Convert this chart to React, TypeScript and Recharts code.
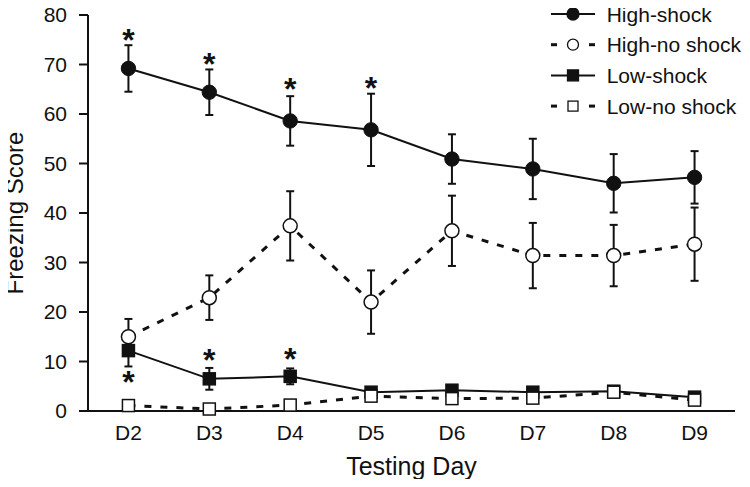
import React from "react"
import { ComposedChart, Line, ErrorBar, XAxis, YAxis, Legend } from "recharts"

const days = ["D2", "D3", "D4", "D5", "D6", "D7", "D8", "D9"]
const yTicks = [0, 10, 20, 30, 40, 50, 60, 70, 80]

const highShock = [69.2, 64.4, 58.6, 56.8, 50.9, 48.9, 46.0, 47.2]
const highShockErr = [4.7, 4.6, 5.0, 7.3, 5.0, 6.1, 5.9, 5.3]
const highNoShock = [15.0, 22.9, 37.4, 22.0, 36.4, 31.4, 31.4, 33.7]
const highNoShockErr = [3.6, 4.5, 7.0, 6.4, 7.1, 6.6, 6.2, 7.4]
const lowShock = [12.2, 6.5, 7.0, 3.8, 4.2, 3.8, 4.0, 2.8]
const lowShockErr = [3.2, 2.2, 1.6, 0.9, 0.8, 0.8, 1.0, 0.7]
const lowNoShock = [1.1, 0.4, 1.2, 3.0, 2.5, 2.6, 3.8, 2.2]
const lowNoShockErr = [0.3, 0.3, 0.9, 0.7, 0.5, 0.6, 1.0, 0.6]

// where the significance asterisks sit (y value), null = none
const starHigh = [76.3, 71.6, 66.5, 66.7, null, null, null, null]
const starLow = [7.3, 11.8, 12.0, null, null, null, null, null]

const legendNames = ["High-shock", "High-no shock", "Low-shock", "Low-no shock"]

const data = days.map((day, i) => ({
  day,
  hs: highShock[i],
  hsErr: highShockErr[i],
  hns: highNoShock[i],
  hnsErr: highNoShockErr[i],
  ls: lowShock[i],
  lsErr: lowShockErr[i],
  lns: lowNoShock[i],
  lnsErr: lowNoShockErr[i],
  starHigh: starHigh[i],
  starLow: starLow[i],
}))

const FONT = '"Liberation Sans", Arial, Helvetica, sans-serif'
const INK = "#111"

const squareDot = (fill: string) => (props: any) => {
  const { cx, cy, index } = props
  if (cx == null || cy == null) return <g key={`sq-${index}`} />
  return (
    <rect key={`sq-${index}`} x={cx - 6} y={cy - 6} width={12} height={12} fill={fill} stroke={INK} strokeWidth={1.5} />
  )
}

const StarDot = (props: any) => {
  const { cx, cy, value, index } = props
  if (value == null || cx == null || cy == null) return <g key={`st-${index}`} />
  return (
    <text key={`st-${index}`} x={cx} y={cy + 18} textAnchor="middle" fontSize={32} fontWeight="bold" fontFamily={FONT} fill={INK}>
      *
    </text>
  )
}

const YTitle = (props: any) => {
  const vb = props.viewBox || {}
  const cy = (vb.y ?? 15) + (vb.height ?? 396) / 2
  const cx = 23
  return (
    <text x={cx} y={cy} transform={`rotate(-90, ${cx}, ${cy})`} textAnchor="middle" fontSize={24} fontFamily={FONT} fill={INK}>
      Freezing Score
    </text>
  )
}

const XTitle = (props: any) => {
  const vb = props.viewBox || {}
  const cx = (vb.x ?? 88) + (vb.width ?? 647) / 2
  return (
    <text x={cx} y={475} textAnchor="middle" fontSize={25} fontFamily={FONT} fill={INK}>
      Testing Day
    </text>
  )
}

function LegendBox() {
  const rowY = (i: number) => 14 + i * 30.7
  return (
    <svg width={200} height={125} style={{ overflow: "visible" }}>
      {legendNames.map((name, i) => {
        const y = rowY(i)
        const dashed = i % 2 === 1
        const circle = i < 2
        return (
          <g key={name}>
            {dashed ? (
              <>
                <line x1={3} y1={y} x2={9} y2={y} stroke={INK} strokeWidth={3} />
                <line x1={41} y1={y} x2={47} y2={y} stroke={INK} strokeWidth={3} />
              </>
            ) : (
              <line x1={3} y1={y} x2={47} y2={y} stroke={INK} strokeWidth={2} />
            )}
            {circle ? (
              <circle cx={25} cy={y} r={dashed ? 5.5 : 6} fill={dashed ? "#fff" : INK} stroke={INK} strokeWidth={1.3} />
            ) : (
              <rect x={dashed ? 20 : 19.5} y={y - (dashed ? 5 : 5.5)} width={dashed ? 10 : 11} height={dashed ? 10 : 11} fill={dashed ? "#fff" : INK} stroke={INK} strokeWidth={1.3} />
            )}
            <text x={58.7} y={y + 7.5} fontSize={21} fontFamily={FONT} fill={INK}>
              {name}
            </text>
          </g>
        )
      })}
    </svg>
  )
}

export default function App() {
  return (
    <div style={{ margin: -8, width: 750, height: 487, background: "#fff" }}>
      <ComposedChart width={750} height={487} data={data} margin={{ top: 15, right: 15, left: 0, bottom: 0 }} style={{ fontFamily: FONT }}>
        <XAxis
          dataKey="day"
          scale="band"
          height={76}
          tickLine={false}
          tickMargin={8}
          axisLine={{ stroke: INK, strokeWidth: 2 }}
          tick={{ fontSize: 21, fill: INK, fontFamily: FONT }}
          label={<XTitle />}
        />
        <YAxis
          domain={[0, 80]}
          ticks={yTicks}
          width={88}
          tickSize={9}
          tickMargin={12}
          axisLine={{ stroke: INK, strokeWidth: 2 }}
          tickLine={{ stroke: INK, strokeWidth: 2 }}
          tick={{ fontSize: 21, fill: INK, fontFamily: FONT }}
          label={<YTitle />}
        />
        <Legend
          layout="vertical"
          align="center"
          verticalAlign="middle"
          wrapperStyle={{ left: 548, top: 0, width: 200, height: 125 }}
          content={() => <LegendBox />}
        />
        <Line
          dataKey="hns"
          stroke={INK}
          strokeWidth={3}
          strokeDasharray="7 9"
          dot={{ r: 7, fill: "#fff", stroke: INK, strokeWidth: 1.5, strokeDasharray: "0" }}
          activeDot={false}
          isAnimationActive={false}
        >
          <ErrorBar dataKey="hnsErr" width={4} stroke={INK} strokeWidth={2} direction="y" />
        </Line>
        <Line
          dataKey="hs"
          stroke={INK}
          strokeWidth={2}
          dot={{ r: 7.2, fill: INK, stroke: INK, strokeWidth: 1 }}
          activeDot={false}
          isAnimationActive={false}
        >
          <ErrorBar dataKey="hsErr" width={4} stroke={INK} strokeWidth={2} direction="y" />
        </Line>
        <Line
          dataKey="ls"
          stroke={INK}
          strokeWidth={2}
          dot={squareDot(INK)}
          activeDot={false}
          isAnimationActive={false}
        >
          <ErrorBar dataKey="lsErr" width={4} stroke={INK} strokeWidth={2} direction="y" />
        </Line>
        <Line
          dataKey="lns"
          stroke={INK}
          strokeWidth={3}
          strokeDasharray="7 9"
          dot={squareDot("#fff")}
          activeDot={false}
          isAnimationActive={false}
        >
          <ErrorBar dataKey="lnsErr" width={4} stroke={INK} strokeWidth={2} direction="y" />
        </Line>
        <Line dataKey="starHigh" stroke="none" dot={StarDot} activeDot={false} legendType="none" isAnimationActive={false} />
        <Line dataKey="starLow" stroke="none" dot={StarDot} activeDot={false} legendType="none" isAnimationActive={false} />
      </ComposedChart>
    </div>
  )
}
